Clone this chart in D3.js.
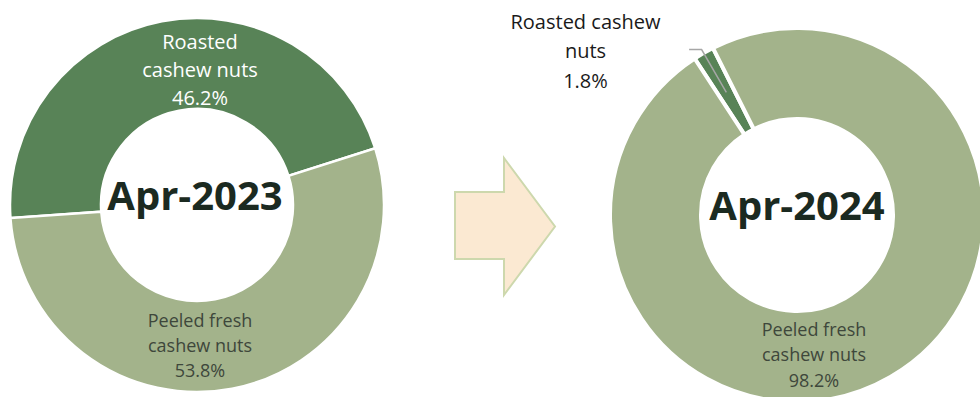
<!DOCTYPE html>
<html>
<head>
<meta charset="utf-8">
<script src="https://cdn.jsdelivr.net/npm/d3@7"></script>
<style>
  html, body { margin: 0; padding: 0; background: #fff; }
  svg { display: block; font-family: "Open Sans", sans-serif; }
</style>
</head>
<body>
<svg id="chart" width="980" height="397"></svg>
<script>
// ---- data ----
const categories = ["Roasted cashew nuts", "Peeled fresh cashew nuts"];
const periods = ["Apr-2023", "Apr-2024"];
const values2023 = [46.2, 53.8];
const values2024 = [1.8, 98.2];
const colors = ["#588357", "#a3b38b"];

const svg = d3.select("#chart");
const deg = Math.PI / 180;

function donut(cfg) {
  const g = svg.append("g").attr("transform", `translate(${cfg.cx},${cfg.cy})`);
  const data = categories.map((c, i) => ({ cat: c, value: cfg.values[i], i }));
  const pie = d3.pie().value(d => d.value).sort(null)
    .startAngle(cfg.start * deg).endAngle(cfg.start * deg + 2 * Math.PI);
  const arc = d3.arc().innerRadius(cfg.inner).outerRadius(cfg.outer);
  const arcs = pie(data);
  g.selectAll("path.slice").data(arcs).join("path")
    .attr("class", "slice")
    .attr("d", arc)
    .attr("fill", d => colors[d.data.i])
    .attr("stroke", "#fff")
    .attr("stroke-width", cfg.strokeW);
  g.append("text")
    .attr("x", cfg.titleDx).attr("y", cfg.titleDy)
    .attr("text-anchor", "middle")
    .attr("font-weight", 700).attr("font-size", 40)
    .attr("fill", "#1b2a21")
    .text(cfg.title);
  return { g, arcs, arc };
}

function label(g, x, y, lines, size, gap, color) {
  const t = g.append("text").attr("text-anchor", "middle")
    .attr("font-size", size).attr("fill", color);
  lines.forEach((l, k) => {
    t.append("tspan").attr("x", x).attr("y", y + k * gap).text(l);
  });
}

const fmt = v => d3.format(".1f")(v) + "%";

// ---- left donut ----
const L = donut({ cx: 197, cy: 205, inner: 96, outer: 187, start: 266, values: values2023,
  strokeW: 2.5, title: periods[0], titleDx: -2, titleDy: 5 });
label(svg, 200, 48.5, ["Roasted", "cashew nuts", fmt(values2023[0])], 20, 28.3, "#ffffff");
label(svg, 200, 326.7, ["Peeled fresh", "cashew nuts", fmt(values2023[1])], 18, 25, "#3e473b");

// ---- arrow ----
svg.append("polygon")
  .attr("points", [[455,192],[504,192],[504,158],[555,226.5],[504,295],[504,259],[455,259]].map(p => p.join(",")).join(" "))
  .attr("fill", "#fbe9d2")
  .attr("stroke", "#cdd8ad")
  .attr("stroke-width", 2);

// ---- right donut ----
const R = donut({ cx: 797, cy: 215, inner: 96, outer: 187, start: 326.8, values: values2024,
  strokeW: 4, title: periods[1], titleDx: 0, titleDy: 5 });
label(svg, 814, 336, ["Peeled fresh", "cashew nuts", fmt(values2024[1])], 18, 25.3, "#3e473b");

// leader line for small slice
const small = R.arcs[0];
const mid = (small.startAngle + small.endAngle) / 2;
const c = R.arc.centroid(small);
const rOut = 191;
const p1 = [797 + c[0], 215 + c[1]];
const p2 = [797 + Math.sin(mid) * rOut, 215 - Math.cos(mid) * rOut];
const p3 = [p2[0] - 12.5, p2[1]];
svg.append("polyline")
  .attr("points", [p1, p2, p3].map(p => p.join(",")).join(" "))
  .attr("fill", "none").attr("stroke", "#a6a6a6").attr("stroke-width", 1.5);
label(svg, 585.5, 28.5, ["Roasted cashew", "nuts", fmt(values2024[0])], 20, 29.5, "#1a1a1a");
</script>
</body>
</html>
